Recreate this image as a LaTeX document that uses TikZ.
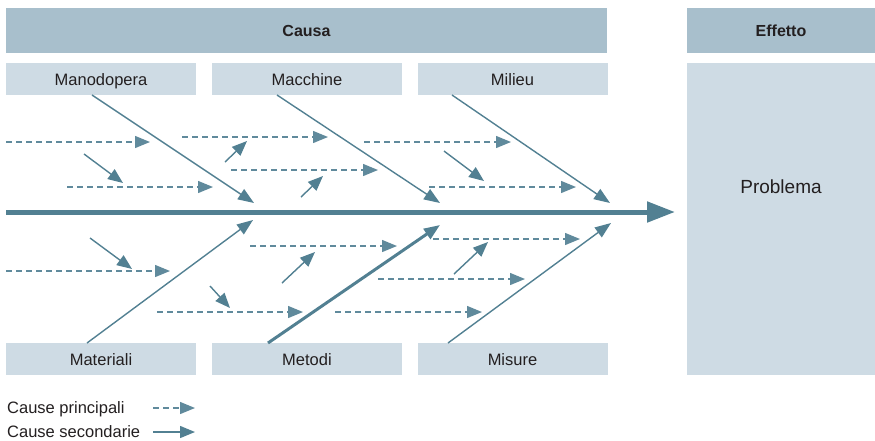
\documentclass[tikz,border=0pt]{standalone}
\usepackage{fontspec}
\setmainfont{Liberation Sans}
\usetikzlibrary{arrows.meta}
\definecolor{spinecol}{RGB}{82,128,146}
\definecolor{dashcol}{RGB}{96,138,156}
\definecolor{headfill}{RGB}{168,191,204}
\definecolor{boxfill}{RGB}{206,219,228}
\definecolor{txtcol}{RGB}{35,31,32}
\begin{document}
\begin{tikzpicture}[x=1pt,y=-1pt]
	\tikzstyle{Head} = [rectangle, fill=headfill, minimum height=45pt, inner sep=0pt, text height=11.5pt, text depth=0pt, text=txtcol, font=\fontsize{16}{18}\selectfont\bfseries]
	\tikzstyle{Box} = [rectangle, fill=boxfill, minimum width=190pt, minimum height=32pt, inner sep=0pt, text height=12pt, text depth=0pt, text=txtcol, font=\fontsize{16.5}{18}\selectfont]
	\tikzstyle{Spine} = [spinecol, line width=5pt, -{Triangle[length=28pt,width=20pt]}]
	\tikzstyle{Bone} = [spinecol, line width=1.4pt, -{Triangle[length=16pt,width=12pt]}]
	\tikzstyle{Main} = [dashcol, line width=1.3pt, dash pattern=on 6pt off 4pt, -{Triangle[length=15pt,width=12pt]}]
	\tikzstyle{Sub} = [spinecol, line width=1.4pt, -{Triangle[length=15pt,width=12pt]}]
	\tikzstyle{Legend} = [anchor=base west, inner sep=0pt, text depth=0pt, text=txtcol, font=\fontsize{16.5}{18}\selectfont]
	\useasboundingbox (0,0) rectangle (875,440);
	% headers
	\node (causa) at (306.5,30.5) [Head, minimum width=601pt] {Causa};
	\node (effetto) at (781,30.5) [Head, minimum width=188pt] {Effetto};
	\node (effbox) at (781,219) [Box, minimum width=188pt, minimum height=312pt] {};
	\node (problema) at (781,186) [text=txtcol, inner sep=0pt, text height=14pt, text depth=0pt, font=\fontsize{19}{21}\selectfont] {Problema};
	% categories
	\node (mano) at (101,79) [Box] {Manodopera};
	\node (macc) at (307,79) [Box] {Macchine};
	\node (mili) at (512.5,79) [Box] {Milieu};
	\node (mate) at (101,359) [Box] {Materiali};
	\node (meto) at (307,359) [Box] {Metodi};
	\node (misu) at (512.5,359) [Box] {Misure};
	% spine
	\coordinate (s0) at (6,212);
	\coordinate (s1) at (675,212);
	\draw [Spine] (s0) to (s1);
	% bones
	\coordinate (b1a) at (92,95);   \coordinate (b1b) at (254,203);
	\coordinate (b2a) at (277,95);  \coordinate (b2b) at (440,203);
	\coordinate (b3a) at (452,95);  \coordinate (b3b) at (610,203);
	\coordinate (b4a) at (87,343);  \coordinate (b4b) at (253,220);
	\coordinate (b5a) at (268,343); \coordinate (b5b) at (440,225);
	\coordinate (b6a) at (448,343); \coordinate (b6b) at (611,223);
	\draw [Bone] (b1a) to (b1b);
	\draw [Bone] (b2a) to (b2b);
	\draw [Bone] (b3a) to (b3b);
	\draw [Bone] (b4a) to (b4b);
	\draw [Bone, line width=3pt] (b5a) to (b5b);
	\draw [Bone] (b6a) to (b6b);
	% main causes
	\coordinate (d1a) at (6,142);    \coordinate (d1b) at (150,142);
	\coordinate (d2a) at (67,187);   \coordinate (d2b) at (213,187);
	\coordinate (d3a) at (182,137);  \coordinate (d3b) at (328,137);
	\coordinate (d4a) at (231,170);  \coordinate (d4b) at (378,170);
	\coordinate (d5a) at (364,142);  \coordinate (d5b) at (511,142);
	\coordinate (d6a) at (429,187);  \coordinate (d6b) at (576,187);
	\coordinate (d7a) at (6,271);    \coordinate (d7b) at (170,271);
	\coordinate (d8a) at (250,246);  \coordinate (d8b) at (397,246);
	\coordinate (d9a) at (157,312);  \coordinate (d9b) at (303,312);
	\coordinate (d10a) at (433,239); \coordinate (d10b) at (580,239);
	\coordinate (d11a) at (378,279); \coordinate (d11b) at (525,279);
	\coordinate (d12a) at (335,312); \coordinate (d12b) at (482,312);
	\draw [Main] (d1a) to (d1b);
	\draw [Main] (d2a) to (d2b);
	\draw [Main] (d3a) to (d3b);
	\draw [Main] (d4a) to (d4b);
	\draw [Main] (d5a) to (d5b);
	\draw [Main] (d6a) to (d6b);
	\draw [Main] (d7a) to (d7b);
	\draw [Main] (d8a) to (d8b);
	\draw [Main] (d9a) to (d9b);
	\draw [Main] (d10a) to (d10b);
	\draw [Main] (d11a) to (d11b);
	\draw [Main] (d12a) to (d12b);
	% secondary causes
	\coordinate (c1a) at (84,154);   \coordinate (c1b) at (123,183);
	\coordinate (c2a) at (225,162);  \coordinate (c2b) at (247,141);
	\coordinate (c3a) at (301,197);  \coordinate (c3b) at (323,176);
	\coordinate (c4a) at (444,151);  \coordinate (c4b) at (484,181);
	\coordinate (c5a) at (90,238);   \coordinate (c5b) at (132,269);
	\coordinate (c6a) at (210,286);  \coordinate (c6b) at (230,308);
	\coordinate (c7a) at (282,283);  \coordinate (c7b) at (315,252);
	\coordinate (c8a) at (454,274);  \coordinate (c8b) at (488,242);
	\draw [Sub] (c1a) to (c1b);
	\draw [Sub] (c2a) to (c2b);
	\draw [Sub] (c3a) to (c3b);
	\draw [Sub] (c4a) to (c4b);
	\draw [Sub] (c5a) to (c5b);
	\draw [Sub] (c6a) to (c6b);
	\draw [Sub] (c7a) to (c7b);
	\draw [Sub] (c8a) to (c8b);
	% legend
	\node (princ) at (7,413) [Legend] {Cause principali};
	\node (secon) at (7,437) [Legend] {Cause secondarie};
	\coordinate (l1a) at (153,408); \coordinate (l1b) at (195,408);
	\coordinate (l2a) at (153,432); \coordinate (l2b) at (195,432);
	\draw [Main] (l1a) to (l1b);
	\draw [Sub] (l2a) to (l2b);
\end{tikzpicture}
\end{document}
